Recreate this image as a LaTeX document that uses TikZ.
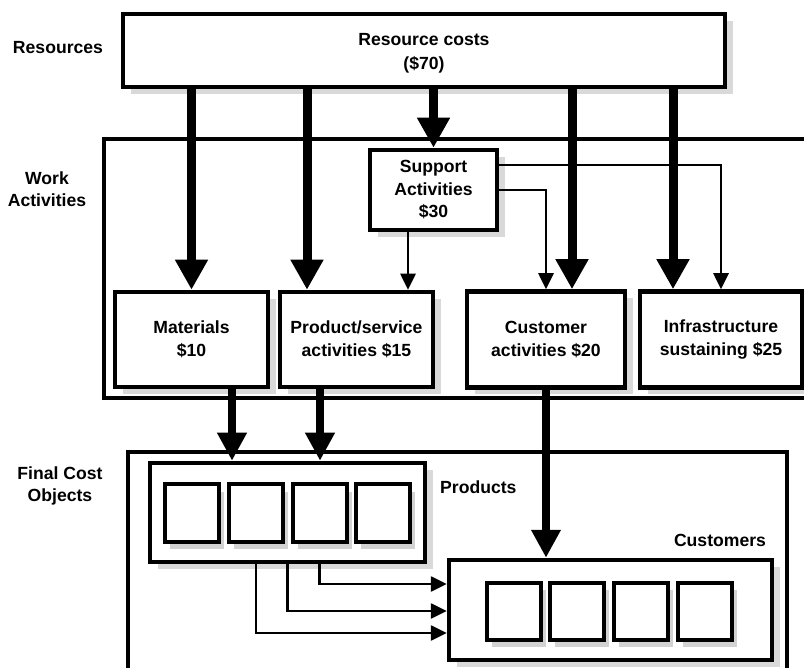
\documentclass[tikz,border=0pt]{standalone}
\usepackage{fontspec}
\setmainfont{Liberation Sans}
\usetikzlibrary{arrows.meta,calc,shadows}
\tikzset{
  txt/.style={font=\fontsize{17.6}{22.5}\selectfont\bfseries, align=center, inner sep=0pt},
  frame/.style={draw, line width=3.5pt, inner sep=0pt},
  box/.style={draw, line width=4.5pt, fill=white, inner sep=0pt, txt,
    drop shadow={shadow xshift=7.5pt, shadow yshift=-7pt, fill=gray!30, opacity=1}},
  sq/.style={draw, line width=4pt, fill=white, inner sep=0pt,
    minimum width=54pt, minimum height=57pt,
    drop shadow={shadow xshift=5pt, shadow yshift=-7pt, fill=gray!35, opacity=1}},
  big/.style={line width=9pt, -{Triangle[width=31pt,length=30pt]}},
  mid/.style={line width=8pt, -{Triangle[width=28pt,length=28pt]}},
  thin/.style={line width=2.6pt, -{Triangle[width=15pt,length=16pt]}},
}
\begin{document}
\begin{tikzpicture}[x=1pt,y=-1pt]
\useasboundingbox (0,0) rectangle (804,668);
\clip (0,0) rectangle (804,668);

% tier labels
\node[txt] (lres)  at (58,48)  {Resources};
\node[txt] (lwork) at (47,189) {Work\\Activities};
\node[txt] (lfin)  at (60,486) {Final Cost\\Objects};

% tier frames
\node[frame, minimum width=708pt, minimum height=259pt] (work)  at (458,268.5) {};
\node[frame, minimum width=659pt, minimum height=240pt] (final) at (457.5,572) {};

% resource pool
\node[box, minimum width=602pt, minimum height=73pt] (res) at (424,50.5) {};
\node[txt, font=\fontsize{17.6}{24}\selectfont\bfseries] (restxt) at (424,53)
  {Resource costs\\(\$70)};

% activity pools
\node[box, minimum width=127pt, minimum height=80pt] (sup) at (433.5,190)
  {Support\\Activities\\\$30};
\node[box, minimum width=153pt, minimum height=95pt] (mat)   at (191.5,339.5) {Materials\\\$10};
\node[box, minimum width=153pt, minimum height=95pt] (prod)  at (356.5,339.5) {Product/service\\activities \$15};
\node[box, minimum width=158pt, minimum height=96pt] (cust)  at (546,339.5)   {Customer\\activities \$20};
\node[box, minimum width=162pt, minimum height=96pt] (infra) at (721,339.5)   {Infrastructure\\sustaining \$25};

% cost objects
\node[box, minimum width=275pt, minimum height=99pt] (prods) at (287.5,512.5) {};
\node[box, minimum width=323pt, minimum height=100pt] (custs) at (610.5,610) {};
\node[txt, anchor=west] (lprods) at (440,487) {Products};
\node[txt] (lcusts) at (720,540) {Customers};

\node[sq] (p1) at (192,513) {};
\node[sq] (p2) at (256,513) {};
\node[sq] (p3) at (319.5,513) {};
\node[sq] (p4) at (382.5,513) {};
\node[sq] (c1) at (513.5,611) {};
\node[sq] (c2) at (577,611) {};
\node[sq] (c3) at (640.5,611) {};
\node[sq] (c4) at (704.5,611) {};

% attachment points that sit off the box centres
\coordinate (prodin)  at ($(prod.north)+(-49.5,0)$);
\coordinate (custin)  at ($(cust.north)+(26,0)$);
\coordinate (infrain) at ($(infra.north)+(-48,0)$);
\coordinate (supdown) at ($(sup.south)+(-25.5,0)$);
\coordinate (supup)   at ($(sup.east)+(0,-25)$);
\coordinate (matout)  at ($(mat.south)+(40.5,0)$);
\coordinate (prodout) at ($(prod.south)+(-36.5,0)$);

% resource drivers
\draw[big] (res.south -| mat.north) -- (mat.north);
\draw[big] (res.south -| prodin) -- (prodin);
\draw[big] (res.south -| sup.north) -- (sup.north);
\draw[big] (res.south -| custin) -- (custin);
\draw[big] (res.south -| infrain) -- (infrain);

% support activity drivers
\draw[thin] (supdown) -- (prod.north -| supdown);
\draw[thin] (sup.east) -| (cust.north);
\draw[thin] (supup) -| (infra.north);

% activity drivers to cost objects
\draw[mid] (matout) -- (prods.north -| matout);
\draw[mid] (prodout) -- (prods.north -| prodout);
\draw[mid] (cust.south) -- (custs.north -| cust.south);

% products to customers
\draw[thin] (prods.south -| p3) |- ($(custs.west)+(0,-26)$);
\draw[thin] (prods.south) |- ($(custs.west)+(0,1)$);
\draw[thin] (prods.south -| p2) |- ($(custs.west)+(0,23)$);
\end{tikzpicture}
\end{document}
